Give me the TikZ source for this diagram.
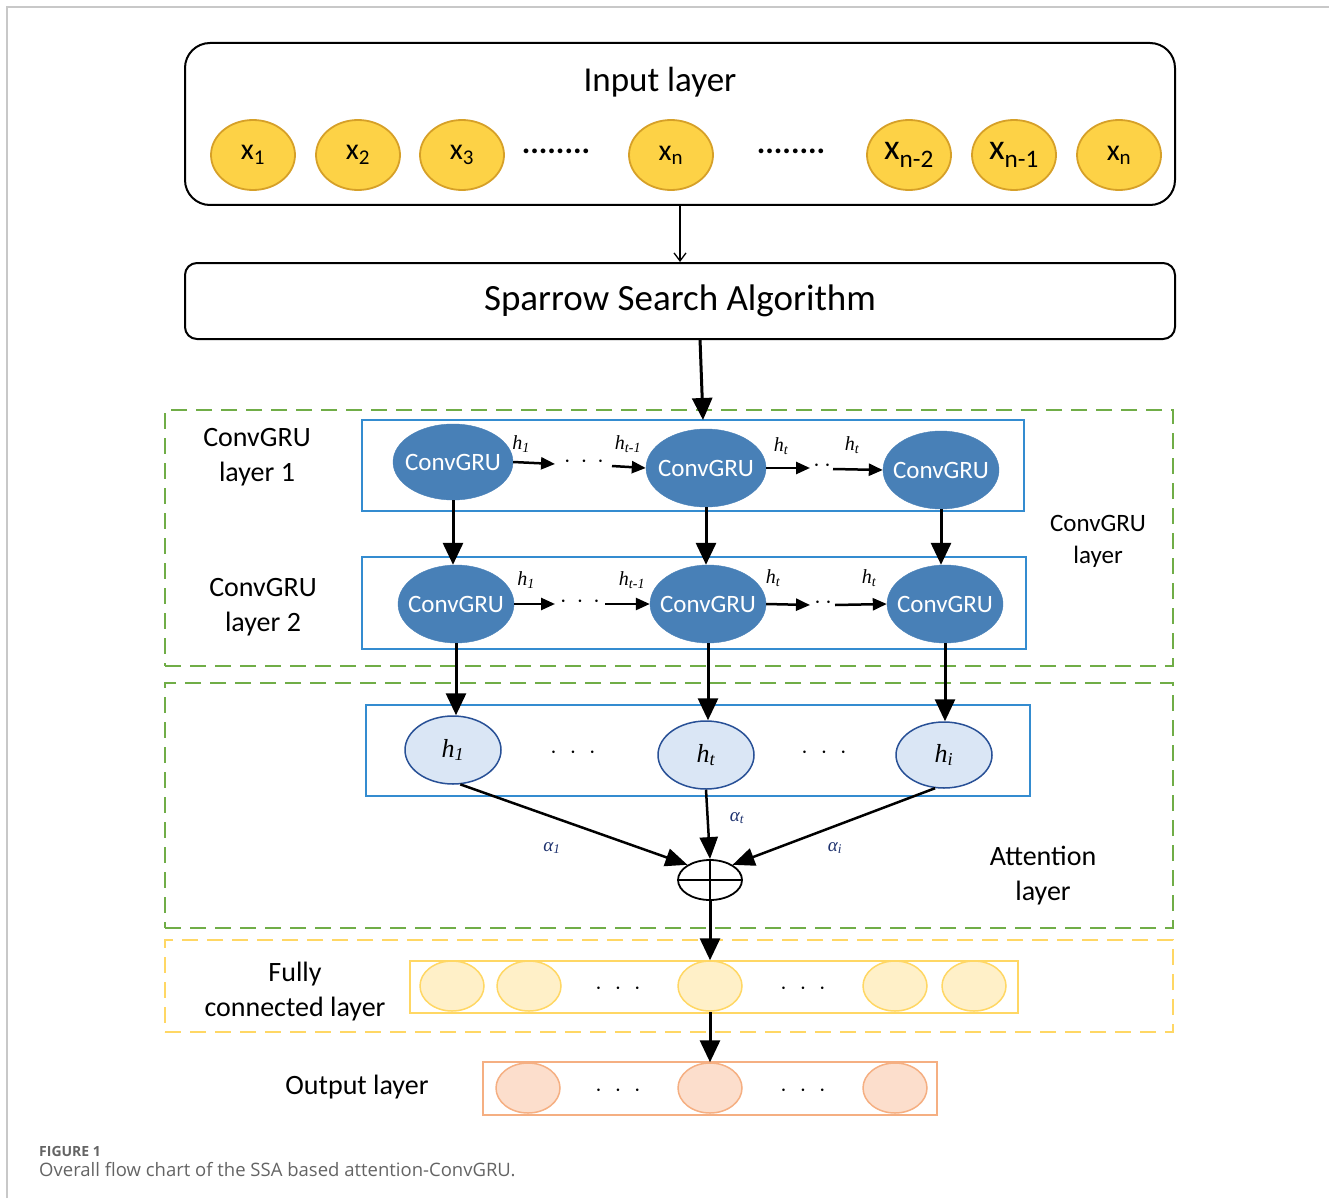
\documentclass[tikz,border=0pt]{standalone}
\usepackage{fontspec}
\setmainfont{Carlito}
\newfontfamily\capfont{Open Sans}
\newfontfamily\serifit{Liberation Serif}
\usetikzlibrary{shapes.geometric,arrows.meta,calc}
\definecolor{frame}{RGB}{200,200,200}
\definecolor{inyel}{RGB}{253,210,70}
\definecolor{inyeld}{RGB}{214,160,40}
\definecolor{gdash}{RGB}{112,173,71}
\definecolor{bbox}{RGB}{52,140,208}
\definecolor{gru}{RGB}{72,128,183}
\definecolor{hfill}{RGB}{218,230,245}
\definecolor{hline}{RGB}{40,80,150}
\definecolor{fcfill}{RGB}{255,240,200}
\definecolor{fcline}{RGB}{255,215,100}
\definecolor{oufill}{RGB}{252,222,204}
\definecolor{ouline}{RGB}{245,175,130}
\definecolor{alab}{RGB}{30,50,110}
\definecolor{captxt}{RGB}{100,100,100}
\newcommand{\fsz}[2]{\fontsize{#1}{#2}\selectfont}
\begin{document}
\begin{tikzpicture}[x=1pt,y=-1pt,
  incirc/.style={ellipse, draw=inyeld, fill=inyel, line width=1.8pt, minimum width=84pt, minimum height=70pt, inner sep=0pt, font=\fsz{30}{34}},
  grucirc/.style={ellipse, fill=gru, draw=gru, minimum width=116pt, minimum height=78pt, inner ysep=0pt, inner xsep=-7pt, text=white, font=\fsz{25}{30}},
  hcirc/.style={ellipse, fill=hfill, draw=hline, line width=1.5pt, minimum width=96pt, minimum height=68pt, inner sep=0pt, font=\serifit\itshape\fsz{26}{30}},
  fccirc/.style={ellipse, fill=fcfill, draw=fcline, line width=1.5pt, minimum width=64pt, minimum height=50pt, inner sep=0pt},
  oucirc/.style={ellipse, fill=oufill, draw=ouline, line width=1.5pt, minimum width=64pt, minimum height=50pt, inner sep=0pt},
  bluebox/.style={draw=bbox, line width=2.5pt, inner sep=0pt},
  gbox/.style={draw=gdash, line width=2.5pt, dash pattern=on 16pt off 9pt, inner sep=0pt},
  ybox/.style={draw=fcline, line width=2.5pt, dash pattern=on 16pt off 9pt, inner sep=0pt},
  lab/.style={align=center, font=\fsz{28}{35}},
  hlab/.style={font=\serifit\itshape\fsz{20}{22}, inner sep=0pt},
  alphalab/.style={font=\serifit\itshape\fsz{19}{21}, text=alab, inner sep=0pt},
  dots/.style={font=\fsz{30}{32}, inner sep=0pt},
  thinarrow/.style={line width=1.3pt, -{Straight Barb[length=8pt,width=12pt]}},
  bigarrow/.style={line width=3pt, -{Triangle[length=22pt,width=20pt]}},
  harrow/.style={line width=2.5pt, -{Triangle[length=14pt,width=12pt]}}
]
\useasboundingbox (0,0) rectangle (1329,1198);
\draw[frame, line width=1.5pt] (7,1198) -- (7,7) -- (1329,7);

% Input layer
\node[draw, line width=2pt, rounded corners=25pt, minimum width=990pt, minimum height=162pt, inner sep=0pt] (inbox) at (680,124) {};
\node[font=\fsz{35}{40}] (intitle) at (660,82) {Input layer};
\node[incirc] (x1) at (253,155) {x\textsubscript{1}};
\node[incirc] (x2) at (358,155) {x\textsubscript{2}};
\node[incirc] (x3) at (462,155) {x\textsubscript{3}};
\node[font=\bfseries\fsz{32}{34}] (dl) at (556,151) {........};
\node[incirc] (x4) at (671,155) {x\textsubscript{n}};
\node[font=\bfseries\fsz{32}{34}] (dr) at (791,151) {........};
\node[incirc, font=\fsz{36}{40}] (x5) at (909,155) {x\textsubscript{n-2}};
\node[incirc, font=\fsz{36}{40}] (x6) at (1014,155) {x\textsubscript{n-1}};
\node[incirc] (x7) at (1119,155) {x\textsubscript{n}};

% SSA
\node[draw, line width=2pt, rounded corners=12pt, minimum width=990pt, minimum height=76pt, inner sep=0pt, font=\fsz{37}{40}] (ssa) at (680,301) {Sparrow Search Algorithm};
\draw[thinarrow] (inbox.south) -- (ssa.north);

% ConvGRU layer group
\node[gbox, minimum width=1008pt, minimum height=256pt] (glayer) at (669,538) {};
\node[bluebox, minimum width=662pt, minimum height=91pt] (bb1) at (693,465.5) {};
\node[bluebox, minimum width=664pt, minimum height=92pt] (bb2) at (694,603) {};
\coordinate (ssaout) at (700,339);
\coordinate (bb1in) at (703,420);
\draw[bigarrow] (ssaout) -- (bb1in);

\node[grucirc, minimum width=120pt, minimum height=76pt] (c1) at (453,462) {ConvGRU};
\node[grucirc, minimum width=120pt] (c2) at (706,468) {ConvGRU};
\node[grucirc] (c3) at (941,470) {ConvGRU};
\node[grucirc] (d1) at (456,604) {ConvGRU};
\node[grucirc] (d2) at (708,604) {ConvGRU};
\node[grucirc] (d3) at (945,604) {ConvGRU};

% row 1 horizontal
\coordinate (a1) at (555,464);
\coordinate (a2) at (612,466);
\coordinate (a3) at (810,468);
\coordinate (a4) at (833,469);
\draw[harrow] (c1.east) -- (a1);
\node[dots] (r1d1) at (584,462) {$\cdot\,\cdot\,\cdot$};
\draw[harrow] (a2) -- (c2.west);
\draw[harrow] (c2.east) -- (a3);
\node[dots] (r1d2) at (822,466) {$\cdot\,\cdot$};
\draw[harrow] (a4) -- (c3.west);
\node[hlab] (l11) at (521,444) {h\textsubscript{1}};
\node[hlab] (l12) at (628,444) {h\textsubscript{t-1}};
\node[hlab] (l13) at (781,446) {h\textsubscript{t}};
\node[hlab] (l14) at (852,445) {h\textsubscript{t}};

% row 2 horizontal
\coordinate (b1) at (555,604);
\coordinate (b2) at (605,604);
\coordinate (b3) at (810,605);
\coordinate (b4) at (835,605);
\draw[harrow] (d1.east) -- (b1);
\node[dots] (r2d1) at (580,602) {$\cdot\,\cdot\,\cdot$};
\draw[harrow] (b2) -- (d2.west);
\draw[harrow] (d2.east) -- (b3);
\node[dots] (r2d2) at (823,603) {$\cdot\,\cdot$};
\draw[harrow] (b4) -- (d3.west);
\node[hlab] (l21) at (526,580) {h\textsubscript{1}};
\node[hlab] (l22) at (632,580) {h\textsubscript{t-1}};
\node[hlab] (l23) at (773,578) {h\textsubscript{t}};
\node[hlab] (l24) at (869,578) {h\textsubscript{t}};

% vertical row1->row2
\draw[bigarrow] (c1.south) -- (c1.south |- d1.north);
\draw[bigarrow] (c2.south) -- (c2.south |- d2.north);
\draw[bigarrow] (c3.south) -- (c3.south |- d3.north);

\node[lab] (lay1) at (257,457) {ConvGRU\\layer 1};
\node[lab] (lay2) at (263,607) {ConvGRU\\layer 2};
\node[lab, font=\fsz{25}{32}] (layg) at (1098,541) {ConvGRU\\layer};

% Attention group
\node[gbox, minimum width=1008pt, minimum height=245pt] (alayer) at (669,805.5) {};
\node[bluebox, minimum width=664pt, minimum height=91pt] (bb3) at (698,750.5) {};
\node[hcirc] (e1) at (453,750) {h\textsubscript{1}};
\node[hcirc] (e2) at (706,755) {h\textsubscript{t}};
\node[hcirc, minimum height=66pt] (e3) at (944,755) {h\textsubscript{i}};
\node[dots] (ad1) at (573,753) {$\cdot\;\cdot\;\cdot$};
\node[dots] (ad2) at (824,753) {$\cdot\;\cdot\;\cdot$};
\draw[bigarrow] (d1.south) -- (d1.south |- e1.north);
\draw[bigarrow] (d2.south) -- (d2.south |- e2.north);
\draw[bigarrow] (d3.south) -- (d3.south |- e3.north);

\node[ellipse, draw, line width=1.8pt, minimum width=64pt, minimum height=40pt, inner sep=0pt] (sum) at (710,880) {};
\draw[line width=1.8pt] (sum.north) -- (sum.south);
\draw[line width=1.8pt] (sum.west) -- (sum.east);
\draw[line width=2.5pt, -{Triangle[length=22pt,width=18pt]}] (e1.-78) -- (sum.146);
\draw[line width=2.5pt, -{Triangle[length=22pt,width=18pt]}] (e2.south) -- (sum.north);
\draw[line width=2.5pt, -{Triangle[length=22pt,width=18pt]}] (e3.-105) -- (sum.34);
\node[alphalab] (al1) at (552,848) {α\textsubscript{1}};
\node[alphalab] (al2) at (737,818) {α\textsubscript{t}};
\node[alphalab] (al3) at (835,848) {α\textsubscript{i}};
\node[lab] (attl) at (1043,876) {Attention\\layer};

% Fully connected
\node[ybox, minimum width=1008pt, minimum height=92pt] (fclayer) at (669,986) {};
\node[draw=fcline, line width=2pt, minimum width=608pt, minimum height=52pt, inner sep=0pt] (fcbox) at (714,987) {};
\node[fccirc] (f1) at (452,986) {};
\node[fccirc] (f2) at (529,986) {};
\node[fccirc] (f3) at (710,986) {};
\node[fccirc] (f4) at (895,986) {};
\node[fccirc] (f5) at (974,986) {};
\node[dots] (fd1) at (618,989) {$\cdot\;\cdot\;\cdot$};
\node[dots] (fd2) at (803,989) {$\cdot\;\cdot\;\cdot$};
\draw[bigarrow] (sum.south) -- (f3.north);
\node[lab] (fcl) at (295,992) {Fully\\connected layer};

% Output
\node[draw=ouline, line width=2pt, minimum width=454pt, minimum height=53pt, inner sep=0pt] (oubox) at (710,1088.5) {};
\node[oucirc] (o1) at (528,1088) {};
\node[oucirc] (o2) at (710,1088) {};
\node[oucirc] (o3) at (895,1088) {};
\node[dots] (od1) at (618,1091) {$\cdot\;\cdot\;\cdot$};
\node[dots] (od2) at (803,1091) {$\cdot\;\cdot\;\cdot$};
\draw[bigarrow] (f3.south) -- (o2.north);
\node[lab] (oul) at (357,1087) {Output layer};

% caption
\node[anchor=west, inner sep=0pt, text=captxt, font=\capfont\bfseries\fsz{14}{16}] (fig) at (39,1151) {FIGURE 1};
\node[anchor=west, inner sep=0pt, text=captxt, font=\capfont\fsz{18.5}{22}] (cap) at (39,1170) {Overall flow chart of the SSA based attention-ConvGRU.};
\end{tikzpicture}
\end{document}
